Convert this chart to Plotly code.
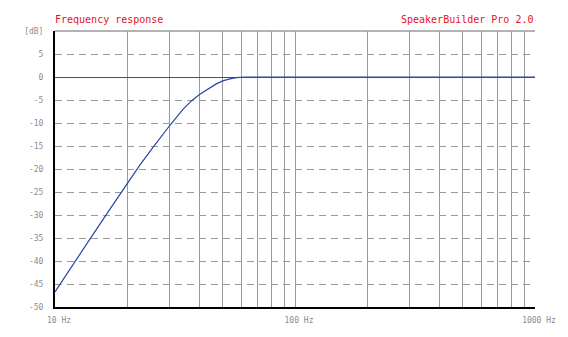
import plotly.graph_objects as go

# Frequency response data (Hz, dB)
freq_hz = [10, 12, 14, 17, 20, 22.6, 25.7, 30, 34.2, 37, 40, 44.2, 47, 50, 53.5, 57, 60, 62, 100, 200, 500, 1000]
level_db = [-46.7, -40.6, -35.2, -28.6, -23.1, -19.1, -15.2, -10.6, -7.0, -5.2, -3.8, -2.4, -1.5, -0.85, -0.4, -0.15, -0.05, 0, 0, 0, 0, 0]

x_tick_vals = [10, 20, 30, 40, 50, 60, 70, 80, 90, 100, 200, 300, 400, 500, 600, 700, 800, 900, 1000]
x_tick_text = ["10 Hz", "", "", "", "", "", "", "", "", "100 Hz", "", "", "", "", "", "", "", "", "1000 Hz"]
y_tick_vals = [-50, -45, -40, -35, -30, -25, -20, -15, -10, -5, 0, 5, 10]
y_tick_text = ["-50", "-45", "-40", "-35", "-30", "-25", "-20", "-15", "-10", "-5", "0", "5", "[dB]"]

MONO = "DejaVu Sans Mono"
GRID = "#9a9a9a"
LABEL = "#8c8c8c"
RED = "#e8101c"

fig = go.Figure()
fig.add_trace(go.Scatter(x=freq_hz, y=level_db, mode="lines",
                         line=dict(color="#2b44a6", width=1.2, shape="linear"),
                         hoverinfo="skip", showlegend=False))

fig.update_layout(
    width=568, height=337,
    margin=dict(l=55, r=33, t=31, b=26),
    paper_bgcolor="white", plot_bgcolor="white",
    showlegend=False,
    xaxis=dict(type="log", range=[1, 3], tickvals=x_tick_vals, ticktext=x_tick_text,
               showgrid=True, gridcolor=GRID, gridwidth=1,
               showline=True, linecolor="black", linewidth=2,
               ticks="", ticklabelstandoff=4, ticklabelshift=4,
               tickfont=dict(family=MONO, size=8, color=LABEL),
               zeroline=False),
    yaxis=dict(range=[-50, 10], tickvals=y_tick_vals, ticktext=y_tick_text,
               showgrid=True, gridcolor=GRID, gridwidth=1, griddash="7px,5px",
               showline=True, linecolor="black", linewidth=2,
               ticks="", ticklabelstandoff=8,
               tickfont=dict(family=MONO, size=8, color=LABEL),
               zeroline=True, zerolinecolor=RED, zerolinewidth=1),
    shapes=[dict(type="line", xref="paper", yref="paper", x0=0, x1=1, y0=1, y1=1,
                 line=dict(color=GRID, width=1.5), layer="above")],
    annotations=[
        dict(text="Frequency response", xref="paper", yref="paper", x=0, y=1,
             xanchor="left", yanchor="bottom", yshift=4, xshift=-2, showarrow=False,
             font=dict(family=MONO, size=10, color=RED)),
        dict(text="SpeakerBuilder Pro 2.0", xref="paper", yref="paper", x=1, y=1,
             xanchor="right", yanchor="bottom", yshift=4, showarrow=False,
             font=dict(family=MONO, size=10, color=RED)),
    ],
)

fig.write_html("out.html")
